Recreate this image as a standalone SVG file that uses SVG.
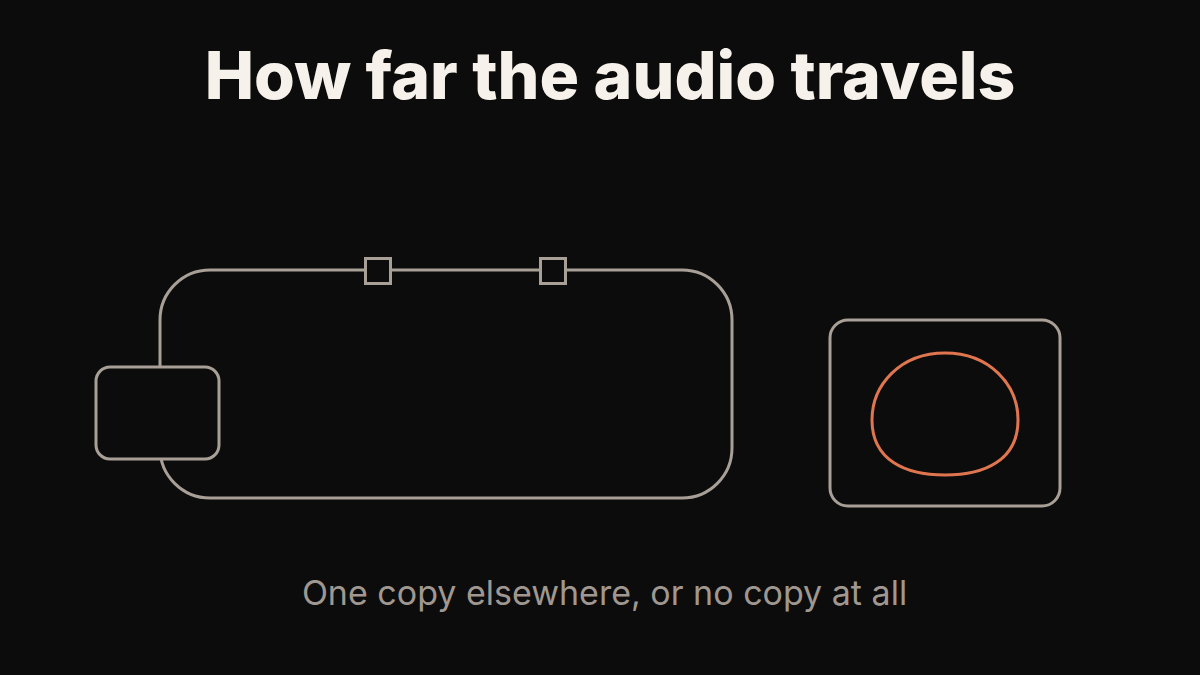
<svg xmlns="http://www.w3.org/2000/svg" width="1200" height="675" viewBox="0 0 1200 675">
<style>
.ln{fill:none;stroke:#A8A097;stroke-width:3}
.bx{fill:#0c0c0c;stroke:#A8A097;stroke-width:3}
.title{font-family:Inter,"Liberation Sans",Arial,sans-serif;font-weight:800;font-size:66px;fill:#F6F1EA}
.sub{font-family:Inter,"Liberation Sans",Arial,sans-serif;font-size:34px;fill:#A09890}
</style>
<rect width="1200" height="675" fill="#0c0c0c"/>
<text class="title" x="610" y="99" text-anchor="middle">How far the audio travels</text>
<g id="connectors">
<rect class="ln" x="160" y="270" width="572" height="228" rx="50"/>
</g>
<g id="node-left"><rect class="bx" x="96" y="367" width="123" height="92" rx="14"/></g>
<g id="node-sq1"><rect class="bx" x="365.5" y="258.5" width="25" height="25"/></g>
<g id="node-sq2"><rect class="bx" x="540.5" y="258.5" width="25" height="25"/></g>
<g id="node-right">
<rect class="bx" x="830" y="320" width="230" height="186" rx="18"/>
<path d="M945 353 C990 353 1018 385 1018 420 C1018 460 985 475 945 475 C905 475 872 460 872 420 C872 385 900 353 945 353 Z" fill="none" stroke="#E0764F" stroke-width="3"/>
</g>
<text class="sub" x="604.5" y="605" text-anchor="middle">One copy elsewhere, or no copy at all</text>
</svg>
